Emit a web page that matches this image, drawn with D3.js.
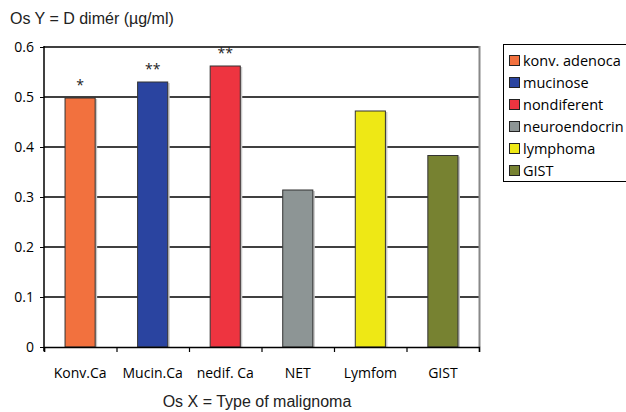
<!DOCTYPE html>
<html><head><meta charset="utf-8">
<script src="https://cdn.jsdelivr.net/npm/d3@7"></script>
<style>body{margin:0;background:#fff}svg{display:block}</style>
</head><body>
<svg id="c" width="626" height="412"></svg>
<script>
const categories = ["Konv.Ca","Mucin.Ca","nedif. Ca","NET","Lymfom","GIST"];
const values = [0.498, 0.530, 0.562, 0.314, 0.472, 0.383];
const marks = ["*","**","**","","",""];
const legendLabels = ["konv. adenoca","mucinose","nondiferent","neuroendocrin","lymphoma","GIST"];
const colors = ["#F2713E","#2A44A0","#EE3440","#8D9595","#EEE815","#778231"];
const yTicks = [0,0.1,0.2,0.3,0.4,0.5,0.6];

const svg = d3.select("#c");
const L=44, R=479, T=47, B=347;
const x = d3.scaleBand().domain(categories).range([L,R]).paddingInner(0.585).paddingOuter(0.29);
const y = d3.scaleLinear().domain([0,0.6]).range([B,T]);
const font = "'Open Sans', 'Noto Sans', sans-serif";
const tfont = "'Liberation Sans', Arial, sans-serif";

// gridlines
svg.append("g").selectAll("line").data(yTicks.slice(1)).join("line")
  .attr("x1",L).attr("x2",R).attr("y1",d=>y(d)).attr("y2",d=>y(d))
  .attr("stroke","#000").attr("stroke-width",1.3);
// right border
svg.append("line").attr("x1",R+0.5).attr("x2",R+0.5).attr("y1",T-1).attr("y2",B)
  .attr("stroke","#888").attr("stroke-width",2);

// bars shadow
svg.append("g").selectAll("rect").data(categories).join("rect")
  .attr("x",d=>x(d)+2).attr("y",(d,i)=>y(values[i])+1)
  .attr("width",x.bandwidth()).attr("height",(d,i)=>B-y(values[i])-1)
  .attr("fill","#c8c8c8");
svg.append("g").selectAll("rect").data(categories).join("rect")
  .attr("x",d=>x(d)).attr("y",(d,i)=>y(values[i]))
  .attr("width",x.bandwidth()).attr("height",(d,i)=>B-y(values[i]))
  .attr("fill",(d,i)=>colors[i]).attr("stroke","#333").attr("stroke-width",1);

// marks
svg.append("g").selectAll("text").data(categories).join("text")
  .attr("x",d=>x(d)+x.bandwidth()/2).attr("y",(d,i)=>y(values[i])-8)
  .attr("text-anchor","middle").attr("font-family",font).attr("font-size",14)
  .attr("fill","#222").text((d,i)=>marks[i]);

// y axis
const ya = svg.append("g").attr("transform",`translate(${L},0)`)
  .call(d3.axisLeft(y).tickValues(yTicks).tickSize(4).tickPadding(6).tickFormat(d=>d===0?"0":d3.format(".1f")(d)));
ya.select(".domain").attr("stroke","#000").attr("stroke-width",1.5).attr("d",`M0,${B+4}V${T-1}`);
ya.selectAll("text").attr("font-family",font).attr("font-size",14).attr("fill","#000");
ya.selectAll(".tick line").attr("stroke","#000");

// x axis
const xs = d3.scaleLinear().domain([0,6]).range([L,R]);
const xa = svg.append("g").attr("transform",`translate(0,${B})`)
  .call(d3.axisBottom(xs).ticks(6).tickSize(5).tickFormat(""));
xa.select(".domain").attr("stroke","#000").attr("stroke-width",1.5);
xa.selectAll(".tick line").attr("stroke","#000").attr("stroke-width",1.2);
svg.append("g").selectAll("text").data(categories).join("text")
  .attr("x",d=>x(d)+x.bandwidth()/2).attr("y",378)
  .attr("text-anchor","middle").attr("font-family",font).attr("font-size",14)
  .attr("fill","#000").text(d=>d);

// titles
svg.append("text").attr("x",10).attr("y",24).attr("font-family",tfont)
  .attr("font-size",16).attr("fill","#222").text("Os Y = D dimér (µg/ml)");
svg.append("text").attr("x",257).attr("y",407).attr("text-anchor","middle").attr("font-family",tfont)
  .attr("font-size",16).attr("fill","#222").text("Os X = Type of malignoma");

// legend
const lg = svg.append("g");
lg.append("rect").attr("x",503.5).attr("y",44.5).attr("width",125).attr("height",137)
  .attr("fill","#fff").attr("stroke","#000").attr("stroke-width",1);
const rows = lg.selectAll("g").data(legendLabels).join("g")
  .attr("transform",(d,i)=>`translate(509,${60.5+i*22})`);
rows.append("rect").attr("x",0.5).attr("y",-5).attr("width",10).attr("height",10)
  .attr("fill",(d,i)=>colors[i]).attr("stroke","#222").attr("stroke-width",1);
rows.append("text").attr("x",14).attr("y",5.5).attr("font-family",font).attr("font-size",14.5)
  .attr("fill","#000").text(d=>d);
</script>
</body></html>
